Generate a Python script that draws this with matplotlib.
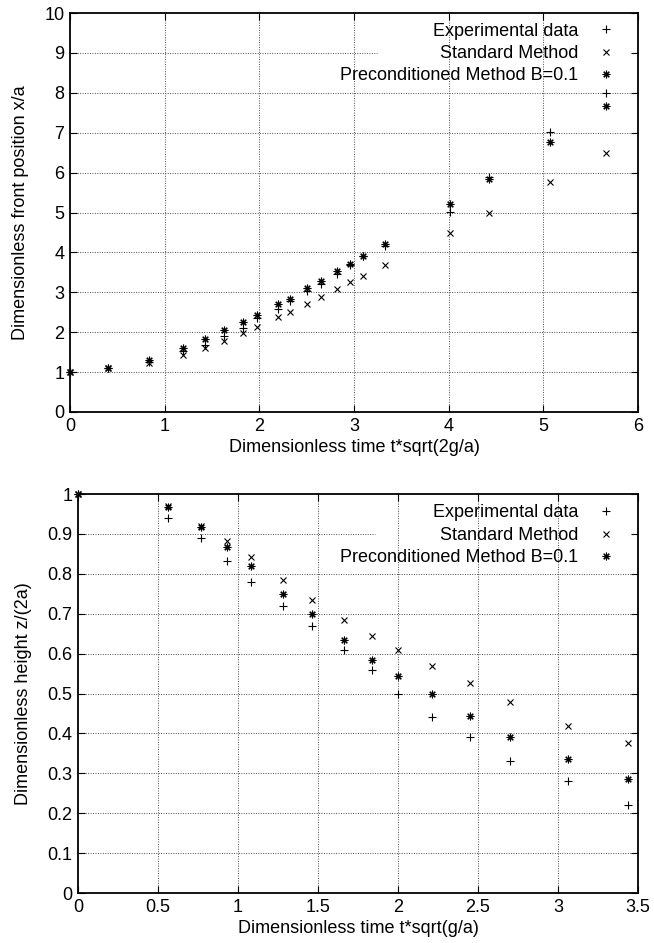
import numpy as np
import matplotlib
matplotlib.use("Agg")
import matplotlib.pyplot as plt
from matplotlib.ticker import MultipleLocator, FormatStrFormatter

plt.rcParams['font.family'] = ['Liberation Sans', 'DejaVu Sans']
plt.rcParams['font.size'] = 13

labels = ["Experimental data", "Standard Method", "Preconditioned Method B=0.1"]

# front position vs time
top_t = [0, 0.4, 0.84, 1.19, 1.43, 1.63, 1.83, 1.98, 2.2, 2.32, 2.5, 2.65,
         2.82, 2.96, 3.1, 3.33, 4.01, 4.43, 5.07, 5.66]
top_exp = [1.0, 1.1, 1.25, 1.52, 1.68, 1.9, 2.1, 2.35, 2.58, 2.78, 3.03, 3.22,
           3.45, 3.68, 3.9, 4.15, 5.01, 5.9, 7.02, 8.0]
top_std = [1.0, 1.1, 1.22, 1.42, 1.6, 1.78, 1.98, 2.13, 2.37, 2.5, 2.7, 2.88,
           3.08, 3.26, 3.41, 3.68, 4.49, 4.99, 5.76, 6.5]
top_pre = [1.0, 1.1, 1.3, 1.6, 1.83, 2.05, 2.25, 2.43, 2.71, 2.83, 3.1, 3.28,
           3.53, 3.71, 3.91, 4.21, 5.21, 5.84, 6.77, 7.67]

# column height vs time
bot_t = [0, 0.56, 0.77, 0.93, 1.08, 1.28, 1.46, 1.66, 1.84, 2.0, 2.21, 2.45,
         2.7, 3.06, 3.44]
bot_exp = [1.0, 0.94, 0.89, 0.832, 0.78, 0.72, 0.67, 0.61, 0.56, 0.50, 0.44,
           0.39, 0.33, 0.28, 0.22]
bot_std = [1.0, 0.97, 0.92, 0.882, 0.842, 0.784, 0.734, 0.684, 0.644, 0.609,
           0.569, 0.526, 0.48, 0.418, 0.376]
bot_pre = [1.0, 0.967, 0.917, 0.867, 0.82, 0.75, 0.70, 0.634, 0.585, 0.544,
           0.50, 0.443, 0.392, 0.335, 0.285]

markers = ['+', 'x', (8, 2, 0)]
msizes = [5.5, 5, 5.5]


def panel(ax, t, series, xmax, xstep, ymax, ystep, xlabel, ylabel, cut, legy):
    for y, m, ms, lab in zip(series, markers, msizes, labels):
        ax.plot(t, y, linestyle='none', marker=m, markersize=ms, color='black',
                markeredgewidth=0.8, label=lab, clip_on=False, zorder=3)
    ax.set_xlim(0, xmax)
    ax.set_ylim(0, ymax)
    ax.xaxis.set_major_locator(MultipleLocator(xstep))
    ax.yaxis.set_major_locator(MultipleLocator(ystep))
    ax.xaxis.set_major_formatter(FormatStrFormatter('%g'))
    ax.yaxis.set_major_formatter(FormatStrFormatter('%g'))
    ax.tick_params(direction='in', length=5, width=0.8, top=True, right=True,
                   labelsize=13, pad=4)
    for s in ax.spines.values():
        s.set_linewidth(1.3)

    # gnuplot-like dotted grid; the line behind the key is cut short
    grid_kw = dict(color='0.3', linestyle=(0, (1, 1.5)), linewidth=0.7, zorder=1)
    for xv in np.arange(xstep, xmax - 1e-9, xstep):
        ax.axvline(xv, **grid_kw)
    yticks = np.arange(ystep, ymax - 1e-9, ystep)
    for yv in yticks:
        if abs(yv - yticks[-1]) < 1e-9:
            ax.axhline(yv, xmax=cut, **grid_kw)
        else:
            ax.axhline(yv, **grid_kw)

    ax.legend(loc='upper right', markerfirst=False, frameon=False,
              fontsize=13, handlelength=1.6, handletextpad=0.75,
              labelspacing=0.3, borderaxespad=0, borderpad=0.4,
              bbox_to_anchor=(0.982, legy))
    ax.set_xlabel(xlabel, fontsize=13, labelpad=3)
    ax.set_ylabel(ylabel, fontsize=13, labelpad=11)


fig = plt.figure(figsize=(6.54, 9.43), dpi=100)
ax1 = fig.add_axes([0.107, 0.5631, 0.8685, 0.4231])
ax2 = fig.add_axes([0.1193, 0.0530, 0.8562, 0.4231])

panel(ax1, top_t, [top_exp, top_std, top_pre], 6, 1, 10, 1,
      'Dimensionless time t*sqrt(2g/a)', 'Dimensionless front position x/a',
      0.54, 0.994)
panel(ax2, bot_t, [bot_exp, bot_std, bot_pre], 3.5, 0.5, 1, 0.1,
      'Dimensionless time t*sqrt(g/a)', 'Dimensionless height z/(2a)',
      0.53, 0.992)

fig.savefig('out.png', dpi=100)
